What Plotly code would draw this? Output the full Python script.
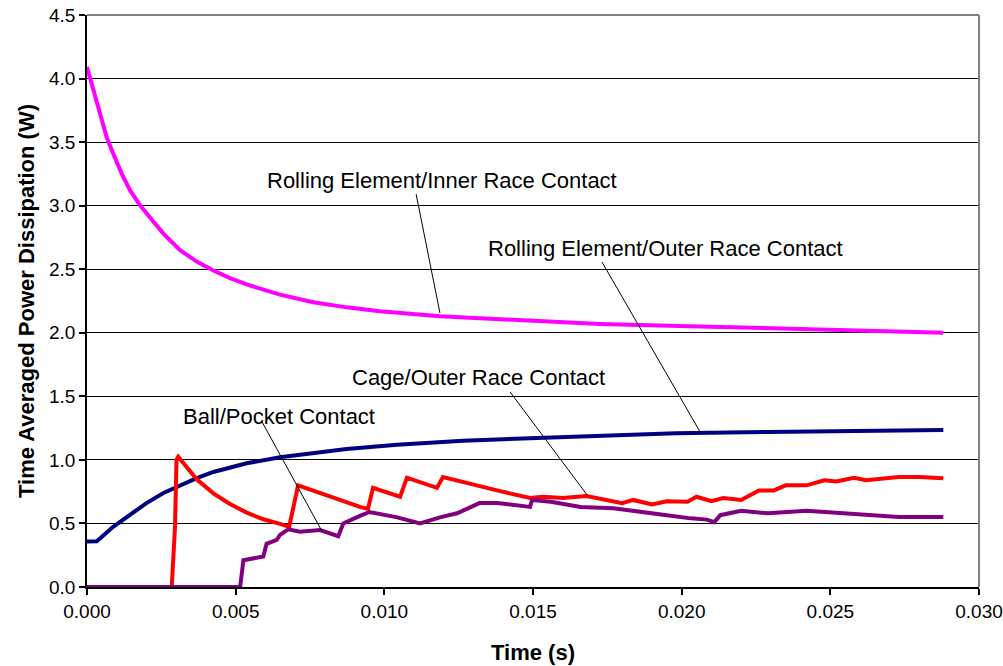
import plotly.graph_objects as go

# ---- data ----
inner_t = [0, 0.00021, 0.00044, 0.00066, 0.00088, 0.00117, 0.00145, 0.00178, 0.00218, 0.00257,
           0.00313, 0.00369, 0.00425, 0.00481, 0.00537, 0.00649, 0.00761, 0.00873, 0.00985,
           0.01187, 0.0145, 0.01725, 0.0206, 0.024, 0.0267, 0.0288]
inner_v = [4.09, 3.91, 3.73, 3.54, 3.41, 3.25, 3.12, 3.005, 2.89, 2.78,
           2.65, 2.56, 2.49, 2.43, 2.38, 2.30, 2.24, 2.20, 2.17,
           2.13, 2.10, 2.07, 2.05, 2.03, 2.01, 2.00]

outer_t = [0, 0.00033, 0.00088, 0.00145, 0.0020, 0.00257, 0.00313, 0.00369, 0.00425, 0.00537,
           0.00649, 0.00761, 0.00873, 0.01043, 0.01265, 0.0149, 0.01715, 0.0198, 0.0229,
           0.0267, 0.0288]
outer_v = [0.357, 0.36, 0.474, 0.57, 0.66, 0.74, 0.80, 0.857, 0.905, 0.973,
           1.02, 1.05, 1.086, 1.12, 1.15, 1.17, 1.19, 1.21, 1.22,
           1.23, 1.235]

cage_t = [0, 0.00285, 0.00296, 0.00301, 0.00307, 0.00335, 0.00369, 0.00425, 0.00481, 0.00537,
          0.00593, 0.00649, 0.0068, 0.0071, 0.00817, 0.00918, 0.00945, 0.00962, 0.01053, 0.01076,
          0.01177, 0.01197, 0.01379, 0.0149, 0.01534, 0.016, 0.0168, 0.0180, 0.01837, 0.0190,
          0.0195, 0.0202, 0.0205, 0.0210, 0.0214, 0.0220, 0.0226, 0.0231, 0.0235, 0.0242,
          0.0248, 0.0252, 0.0258, 0.0262, 0.0273, 0.0280, 0.0288]
cage_v = [0, 0, 0.474, 1.0, 1.025, 0.946, 0.847, 0.737, 0.653, 0.585,
          0.533, 0.496, 0.474, 0.80, 0.71, 0.63, 0.615, 0.78, 0.71, 0.86,
          0.78, 0.865, 0.76, 0.70, 0.71, 0.70, 0.715, 0.66, 0.685, 0.65,
          0.675, 0.67, 0.71, 0.675, 0.70, 0.685, 0.76, 0.76, 0.80, 0.80,
          0.84, 0.83, 0.86, 0.84, 0.865, 0.865, 0.855]

ball_t = [0, 0.00515, 0.00526, 0.00593, 0.00604, 0.00638, 0.00649, 0.00677, 0.00716, 0.00784,
          0.00845, 0.00862, 0.00918, 0.0095, 0.0104, 0.0112, 0.0119, 0.01245, 0.0132, 0.0138,
          0.0149, 0.01497, 0.0156, 0.0166, 0.0177, 0.0188, 0.0195, 0.0203, 0.02085, 0.0211,
          0.0213, 0.0220, 0.0229, 0.0242, 0.0262, 0.0273, 0.0288]
ball_v = [0, 0, 0.21, 0.24, 0.34, 0.37, 0.41, 0.454, 0.435, 0.448,
          0.40, 0.50, 0.56, 0.59, 0.55, 0.50, 0.55, 0.58, 0.66, 0.66,
          0.63, 0.685, 0.67, 0.63, 0.62, 0.59, 0.565, 0.54, 0.53, 0.51,
          0.565, 0.60, 0.58, 0.60, 0.565, 0.55, 0.55]

x_ticks = [0.0, 0.005, 0.010, 0.015, 0.020, 0.025, 0.030]
y_ticks = [0.0, 0.5, 1.0, 1.5, 2.0, 2.5, 3.0, 3.5, 4.0, 4.5]

labels = ["Rolling Element/Inner Race Contact", "Rolling Element/Outer Race Contact",
          "Cage/Outer Race Contact", "Ball/Pocket Contact"]
label_x = [0.01194, 0.01944, 0.01318, 0.00646]
label_y = [3.20, 2.66, 1.652, 1.345]
leader_x0 = [0.01107, 0.01732, 0.01423, 0.00589]
leader_y0 = [3.09, 2.557, 1.534, 1.298]
leader_x1 = [0.01187, 0.02062, 0.01682, 0.0079]
leader_y1 = [2.156, 1.22, 0.724, 0.44]

FONT = "Liberation Sans, Arial, sans-serif"

fig = go.Figure()
series = [
    (inner_t, inner_v, "#FF00FF"),
    (outer_t, outer_v, "#000080"),
    (cage_t, cage_v, "#FF0000"),
    (ball_t, ball_v, "#800080"),
]
for t, v, c in series:
    fig.add_trace(go.Scatter(x=t, y=v, mode="lines", line=dict(color=c, width=4),
                             showlegend=False, hoverinfo="skip"))

for i, txt in enumerate(labels):
    fig.add_annotation(x=label_x[i], y=label_y[i], xref="x", yref="y", text=txt,
                       showarrow=False, font=dict(family=FONT, size=22, color="black"))
    fig.add_shape(type="line", xref="x", yref="y",
                  x0=leader_x0[i], y0=leader_y0[i], x1=leader_x1[i], y1=leader_y1[i],
                  line=dict(color="black", width=1), layer="above")

# gray top/right border of plot area
fig.add_shape(type="line", xref="x domain", yref="y domain", x0=0, x1=1, y0=1, y1=1,
              line=dict(color="#808080", width=2), layer="above")
fig.add_shape(type="line", xref="x domain", yref="y domain", x0=1, x1=1, y0=0, y1=1,
              line=dict(color="#808080", width=2), layer="above")

fig.update_layout(
    width=1003, height=666,
    margin=dict(l=87, r=24, t=15, b=79, autoexpand=False),
    paper_bgcolor="white", plot_bgcolor="white",
    font=dict(family=FONT, size=19, color="black"),
)
fig.update_xaxes(range=[0, 0.030], tickvals=x_ticks, tickformat=".3f", automargin=False,
                 showgrid=False, zeroline=False, showline=True, linecolor="black", linewidth=1.5,
                 ticks="outside", ticklen=6, tickcolor="black", tickwidth=1.5,
                 tickfont=dict(family=FONT, size=19),
                 title=dict(text="<b>Time (s)</b>", font=dict(family=FONT, size=22), standoff=24))
fig.update_yaxes(range=[0, 4.5], tickvals=y_ticks, tickformat=".1f", automargin=False,
                 showgrid=True, gridcolor="black", gridwidth=1, zeroline=False,
                 showline=True, linecolor="black", linewidth=1.5,
                 ticks="outside", ticklen=6, tickcolor="black", tickwidth=1.5,
                 tickfont=dict(family=FONT, size=19),
                 title=dict(text="<b>Time Averaged Power Dissipation (W)</b>",
                            font=dict(family=FONT, size=22), standoff=8))

fig.write_html("out.html", config={"displayModeBar": False},
               post_script="document.body.style.margin='0';document.body.style.overflow='hidden';")
